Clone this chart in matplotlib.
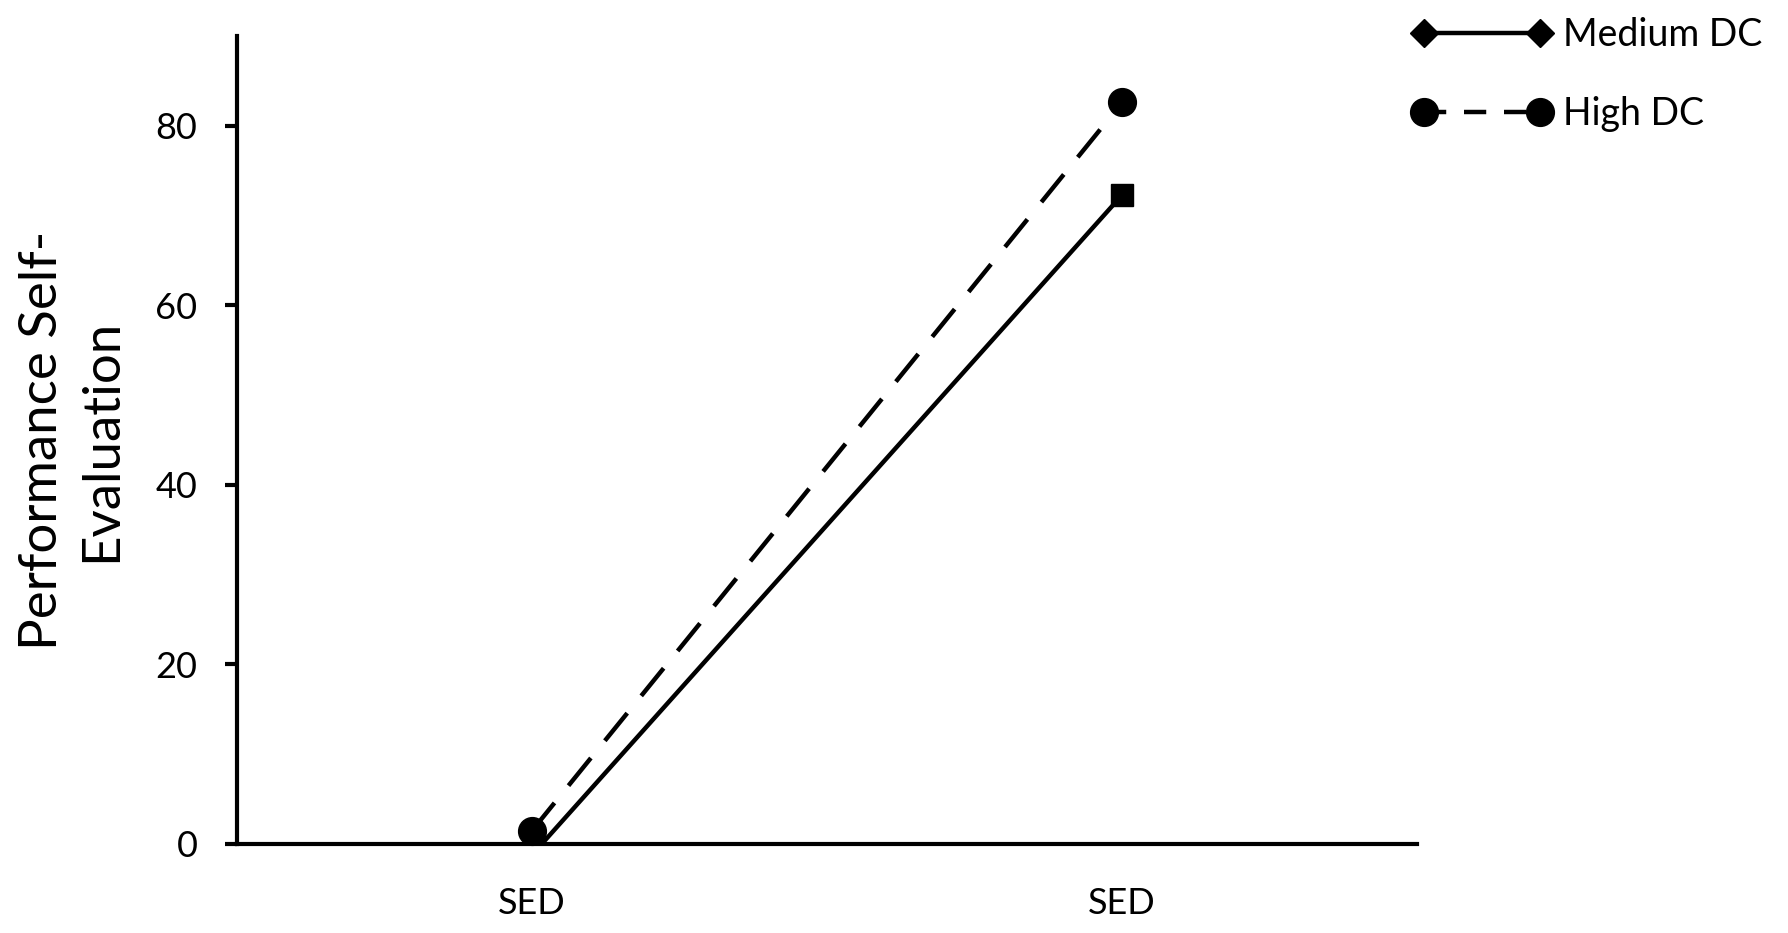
# Performance self-evaluation by DC level

import numpy as np
import matplotlib.pyplot as plt
from matplotlib.lines import Line2D

plt.rcParams['font.family'] = ['Lato', 'DejaVu Sans']

# Data

categories = ['SED', 'SED']
medium_dc = [-1.2, 72.3]
high_dc = [1.5, 82.6]
y_ticks = [0, 20, 40, 60, 80]

x = np.arange(len(categories))

fig = plt.figure(figsize=(17.88, 9.33), dpi=100)
ax = fig.add_axes([0.1326, 0.0954, 0.66, 0.866])

ax.plot(x, medium_dc, color='black', linewidth=3.2, marker='s', markersize=16)
ax.plot(x, high_dc, color='black', linewidth=3.2, linestyle=(0, (8, 5)),
        marker='o', markersize=20, clip_on=False)

ax.set_xlim(-0.5, 1.5)
ax.set_ylim(0, 90)
ax.set_xticks(x)
ax.set_xticklabels(categories)
ax.set_yticks(y_ticks)

ax.spines['top'].set_visible(False)
ax.spines['right'].set_visible(False)
ax.spines['left'].set_linewidth(3)
ax.spines['bottom'].set_linewidth(3)

ax.tick_params(axis='y', direction='out', length=8.5, width=3, pad=20, labelsize=26)
ax.tick_params(axis='x', length=0, pad=31, labelsize=26)

ax.set_ylabel('Performance Self-\nEvaluation', fontsize=38, labelpad=22, linespacing=1.3)

# Legend, diamonds for medium as in the original
handles = [
    Line2D([0], [0], color='black', linewidth=3.2, marker='D', markersize=14),
    Line2D([0], [0], color='black', linewidth=3.2, linestyle=(0, (5, 4)),
           marker='o', markersize=20),
]
fig.legend(handles, ['Medium DC', 'High DC'], loc='upper left',
           bbox_to_anchor=(0.79, 0.982), frameon=False, numpoints=2,
           handlelength=3.7, handletextpad=0.3, labelspacing=1.15,
           borderpad=0, borderaxespad=0, fontsize=27)

fig.savefig('out.png', dpi=100)
